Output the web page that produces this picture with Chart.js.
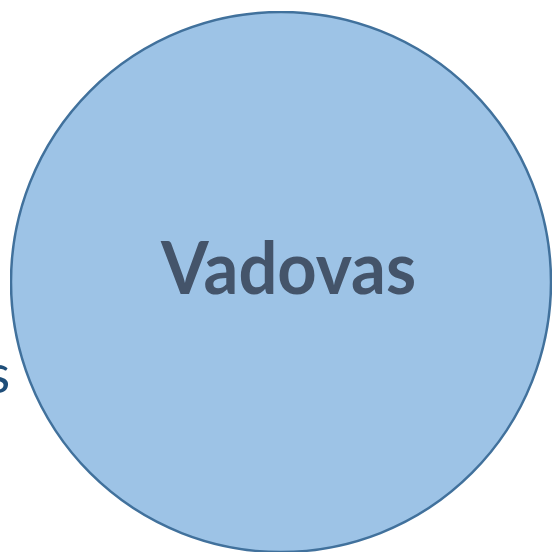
<!DOCTYPE html>
<html>
<head>
<meta charset="utf-8">
<script src="https://cdn.jsdelivr.net/npm/chart.js@4/dist/chart.umd.min.js"></script>
<style>
  html, body { margin: 0; padding: 0; width: 553px; height: 552px; overflow: hidden; background: #ffffff; }
  #wrap { position: absolute; left: 10px; top: 11px; width: 542px; height: 542px; }
  #center { position: absolute; left: 0; top: 0; width: 100%; height: 100%; display: flex; align-items: center; justify-content: center; pointer-events: none; }
  #center span { font-family: Lato, "Open Sans", sans-serif; font-weight: 700; font-size: 73px; color: #44546A; display: inline-block; transform-origin: center; }
  #side { position: absolute; left: -40px; top: 346px; font-family: Lato, "Open Sans", sans-serif; font-size: 54px; color: #1F4E79; line-height: 1; }
</style>
</head>
<body>
<div id="side">as</div>
<div id="wrap">
  <canvas id="c"></canvas>
  <div id="center"><span id="lbl"></span></div>
</div>
<script>
const categories = ['Vadovas'];
const values = [1];

document.getElementById('lbl').textContent = categories[0];

// outline of the single full slice, drawn from the arc element's own geometry (no seam)
const outline = {
  id: 'outline',
  afterDatasetsDraw(chart) {
    const arc = chart.getDatasetMeta(0).data[0];
    if (!arc) return;
    const ctx = chart.ctx;
    ctx.save();
    ctx.beginPath();
    ctx.arc(arc.x, arc.y, arc.outerRadius, 0, Math.PI * 2);
    ctx.lineWidth = 2.5;
    ctx.strokeStyle = '#41719C';
    ctx.stroke();
    ctx.restore();
  }
};

new Chart(document.getElementById('c'), {
  type: 'pie',
  data: {
    labels: categories,
    datasets: [{
      data: values,
      backgroundColor: '#9DC3E6',
      borderWidth: 0
    }]
  },
  options: {
    responsive: true,
    maintainAspectRatio: false,
    animation: false,
    layout: { padding: 1 },
    plugins: { legend: { display: false }, tooltip: { enabled: false } }
  },
  plugins: [outline]
});

// fit label width to reference (~255px)
const lbl = document.getElementById('lbl');
const w = lbl.getBoundingClientRect().width;
lbl.style.transform = 'translate(8px, -16px) scaleX(' + (255 / w) + ')';
</script>
</body>
</html>
